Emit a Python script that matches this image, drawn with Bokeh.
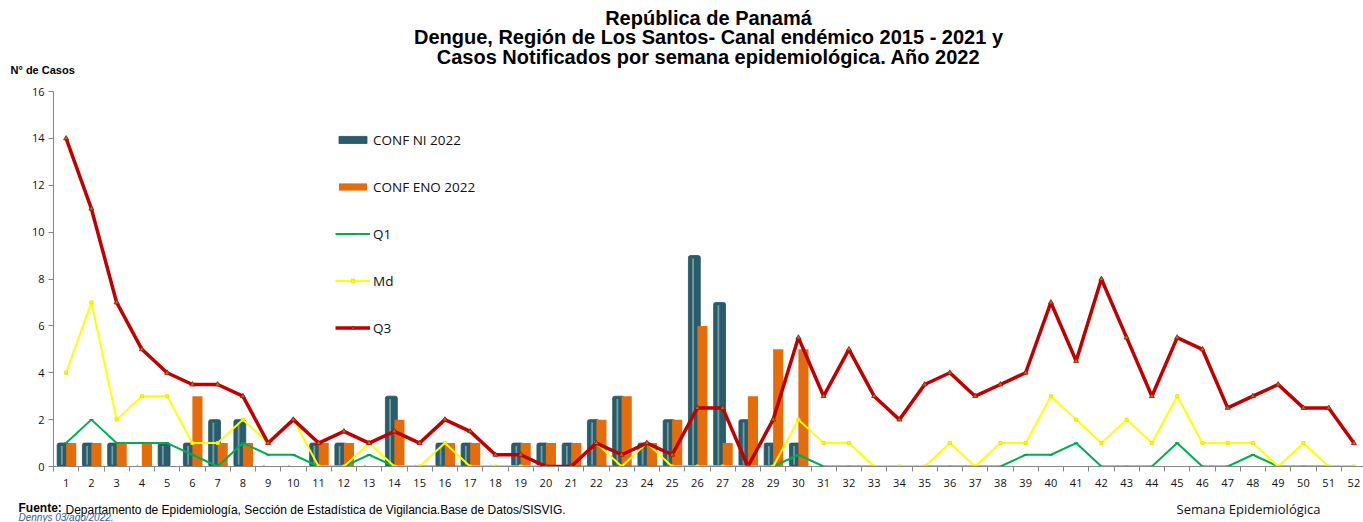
from bokeh.plotting import figure
from bokeh.models import (Legend, LegendItem, FixedTicker, Range1d,
                          ColumnDataSource, Title, LinearAxis)
from bokeh.transform import dodge
from bokeh.embed import file_html
from bokeh.resources import INLINE

# ---------------- data ----------------
weeks = list(range(1, 53))
bar_weeks = list(range(1, 31))
conf_ni = [1, 1, 1, 0, 1, 1, 2, 2, 0, 0, 1, 1, 0, 3, 0, 1, 1, 0, 1, 1,
           1, 2, 3, 1, 2, 9, 7, 2, 1, 1]
conf_eno = [1, 1, 1, 1, 0, 3, 1, 1, 0, 0, 1, 1, 0, 2, 0, 1, 1, 0, 1, 1,
            1, 2, 3, 1, 2, 6, 1, 3, 5, 5]
q1 = [1, 2, 1, 1, 1, 0.5, 0, 1, 0.5, 0.5,
      0, 0, 0.5, 0, 0, 0, 0, 0, 0, 0,
      0, 0, 0, 0, 0, 0, 0, 0, 0, 0.5,
      0, 0, 0, 0, 0, 0, 0, 0, 0.5, 0.5,
      1, 0, 0, 0, 1, 0, 0, 0.5, 0, 0,
      0, 0]
md = [4, 7, 2, 3, 3, 1, 1, 2, 1, 2,
      0, 0, 1, 0, 0, 1, 0, 0, 0, 0,
      0, 1, 0, 1, 0, 0, 0, 0, 0, 2,
      1, 1, 0, 0, 0, 1, 0, 1, 1, 3,
      2, 1, 2, 1, 3, 1, 1, 1, 0, 1,
      0, 0]
q3 = [14, 11, 7, 5, 4, 3.5, 3.5, 3, 1, 2,
      1, 1.5, 1, 1.5, 1, 2, 1.5, 0.5, 0.5, 0,
      0, 1, 0.5, 1, 0.5, 2.5, 2.5, 0, 2, 5.5,
      3, 5, 3, 2, 3.5, 4, 3, 3.5, 4, 7,
      4.5, 8, 5.5, 3, 5.5, 5, 2.5, 3, 3.5, 2.5,
      2.5, 1]
y_ticks = [0, 2, 4, 6, 8, 10, 12, 14, 16]

title_lines = ["República de Panamá",
               "Dengue, Región de Los Santos- Canal endémico 2015 - 2021 y",
               "Casos Notificados por semana epidemiológica. Año 2022"]
y_title = "N° de Casos"
x_title = "Semana Epidemiológica"
source_head = "Fuente:"
source_text = "Departamento de Epidemiología, Sección de Estadística de Vigilancia.Base de Datos/SISVIG."
author_text = "Dennys  03/ago/2022."

# ---------------- figure ----------------
p = figure(width=1363, height=522, output_backend="svg", toolbar_location=None,
           x_range=Range1d(0.5, 52.38), y_range=Range1d(0, 16),
           min_border_left=53, min_border_right=0, min_border_top=91,
           min_border_bottom=56, title=None)
p.outline_line_color = None
p.xgrid.visible = False
p.ygrid.visible = False
p.background_fill_color = "white"
p.border_fill_color = "white"

bars = ColumnDataSource(dict(week=bar_weeks, ni=conf_ni, eno=conf_eno,
                             stripe_top=[max(v - 0.12, 0) for v in conf_ni]))
lines = ColumnDataSource(dict(week=weeks, q1=q1, md=md, q3=q3))

r_ni = p.vbar(x=dodge("week", -0.12, range=p.x_range), top="ni", width=0.47,
              source=bars, fill_color="#2A5D6B", line_color="#24505D",
              line_width=0.8, border_radius=2)
p.vbar(x=dodge("week", -0.17, range=p.x_range), top="stripe_top", bottom=0.08,
       width=0.07, source=bars, fill_color="#8DB0BA", fill_alpha=0.75,
       line_color=None)
r_eno = p.vbar(x=dodge("week", 0.2, range=p.x_range), top="eno", width=0.4,
               source=bars, fill_color="#E46C0A", line_color=None)

r_q1 = p.line("week", "q1", source=lines, line_color="#00B050", line_width=2)
s_q1 = p.scatter("week", "q1", source=lines, marker="dash", size=4,
                 line_color="#00A048", line_width=1.5)
r_md = p.line("week", "md", source=lines, line_color="#FFFF00", line_width=2)
s_md = p.scatter("week", "md", source=lines, marker="square", size=3,
                 fill_color="#FFFF00", line_color="#E6E600")
r_q3 = p.line("week", "q3", source=lines, line_color="#C00000", line_width=3.5)
s_q3 = p.scatter("week", "q3", source=lines, marker="triangle", size=5,
                 fill_color="#7A8A2E", line_color="#C00000", line_width=0.8)

# ---------------- axes ----------------
tick_font = "Open Sans"
xa = p.xaxis[0]
xa.ticker = FixedTicker(ticks=weeks, minor_ticks=[w - 0.5 for w in weeks] + [52.5])
xa.major_tick_line_color = None
xa.major_tick_out = 0
xa.minor_tick_out = 5
xa.minor_tick_in = 0
xa.minor_tick_line_color = "#868686"
xa.axis_line_color = "#868686"
xa.major_label_standoff = 7
xa.major_label_text_font = tick_font
xa.major_label_text_font_size = "11px"
xa.major_label_text_color = "#111111"

ya = p.yaxis[0]
ya.ticker = FixedTicker(ticks=y_ticks, minor_ticks=[])
ya.major_tick_out = 5
ya.major_tick_in = 0
ya.major_tick_line_color = "#868686"
ya.minor_tick_line_color = None
ya.axis_line_color = "#868686"
ya.major_label_standoff = 4
ya.major_label_text_font = tick_font
ya.major_label_text_font_size = "11px"
ya.major_label_text_color = "#111111"


def spacer(size):
    # an invisible axis used only to reserve vertical room in a side panel
    return LinearAxis(ticker=FixedTicker(ticks=[1], minor_ticks=[]),
                      major_label_overrides={1: ""},
                      major_label_text_font_size="1px",
                      major_tick_out=size, major_tick_in=0, minor_tick_out=0,
                      minor_tick_in=0, major_label_standoff=0,
                      axis_line_color=None, major_tick_line_color=None,
                      minor_tick_line_color=None)


# ---------------- legend ----------------
legend = Legend(items=[
    LegendItem(label="CONF NI 2022", renderers=[r_ni]),
    LegendItem(label="CONF ENO 2022", renderers=[r_eno]),
    LegendItem(label="Q1", renderers=[r_q1, s_q1]),
    LegendItem(label="Md", renderers=[r_md, s_md]),
    LegendItem(label="Q3", renderers=[r_q3, s_q3]),
], location=(282, 129), orientation="vertical", spacing=28, padding=0,
   margin=0, glyph_width=35, glyph_height=9, label_height=19,
   label_standoff=3, border_line_color=None, background_fill_alpha=0,
   label_text_font=tick_font, label_text_font_size="13.5px",
   label_text_color="#111111", label_text_baseline="middle")
p.add_layout(legend)


def title(text, align, offset, standoff, font, size, style, color="#000000"):
    t = Title(text=text, align=align, offset=offset, text_font=font,
              text_font_size=size, text_font_style=style, text_color=color)
    try:
        t.standoff = standoff
    except Exception:
        pass
    return t


# ---------------- above (nearest to the frame first) ----------------
p.add_layout(spacer(22), "above")
p.add_layout(title(y_title, "left", -43, -13, "Liberation Sans", "11px", "bold"), "above")
p.add_layout(title(title_lines[2], "center", 0, 0.8, "Liberation Sans", "20px", "bold"), "above")
p.add_layout(title(title_lines[1], "center", 0, -9.6, "Liberation Sans", "20px", "bold"), "above")
p.add_layout(title(title_lines[0], "center", 0, 0.8, "Liberation Sans", "20px", "bold"), "above")

# ---------------- below (nearest to the frame first) ----------------
p.add_layout(spacer(16), "below")
p.add_layout(title(x_title, "right", 43, -24, "Open Sans", "13px", "normal", "#111111"), "below")
p.add_layout(title(source_head, "left", -35, -14, "Liberation Sans", "12px", "bold"), "below")
p.add_layout(title(source_text, "left", 12, -14, "Liberation Sans", "12px", "normal"), "below")
p.add_layout(title(author_text, "left", -35, -0.4, "Liberation Sans", "10px", "italic", "#2E5DA8"), "below")

open("out.html", "w").write(file_html(p, INLINE))
